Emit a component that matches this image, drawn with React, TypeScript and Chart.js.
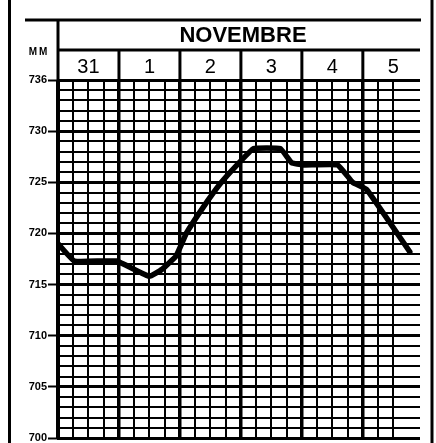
import React, { useEffect, useRef } from "react";
import { Chart, registerables } from "chart.js";

Chart.register(...registerables);

// Hours since 31 Oct 00h
const hours = [0, 6.5, 23, 36, 41, 46.5, 50.5, 57, 64, 70.5, 77, 87.5, 92, 96.5, 110, 116, 121.5, 138.5];
// Barometric pressure (mm)
const pressure = [719.0, 717.3, 717.3, 715.8, 716.5, 717.8, 720.0, 722.5, 724.9, 726.7, 728.3, 728.3, 726.9, 726.7, 726.7, 725.0, 724.3, 718.2];

const monthLabel = "NOVEMBRE";
const dayLabels = ["31", "1", "2", "3", "4", "5"];
const unitLabel = "MM";
const yTickValues = [700, 705, 710, 715, 720, 725, 730, 735];
const yTickLabels = ["700", "705", "710", "715", "720", "725", "730", "736"];

const FONT = "'Liberation Sans', Arial, sans-serif";

const headerPlugin = {
  id: "header",
  afterDraw(chart: any) {
    const ctx = chart.ctx as CanvasRenderingContext2D;
    const xs = chart.scales.x;
    const area = chart.chartArea;
    ctx.save();
    ctx.strokeStyle = "#000";
    ctx.fillStyle = "#000";
    ctx.lineCap = "butt";
    const line = (x1: number, y1: number, x2: number, y2: number, w: number) => {
      ctx.lineWidth = w;
      ctx.beginPath();
      ctx.moveTo(x1, y1);
      ctx.lineTo(x2, y2);
      ctx.stroke();
    };
    // outer frame
    line(9.5, 0, 9.5, 443, 3);
    line(432, 0, 432, 443, 3);
    // header lines
    line(25, 20, 421, 20, 3);
    line(area.left, 20, area.left, area.top, 3);
    line(area.left, 50, area.right, 50, 3);
    for (let i = 1; i < dayLabels.length; i++) {
      const px = xs.getPixelForValue(24 * i);
      line(px, 50, px, area.top, 3);
    }
    // month
    ctx.textAlign = "center";
    ctx.textBaseline = "middle";
    ctx.font = `bold 22px ${FONT}`;
    ctx.fillText(monthLabel, (area.left + area.right) / 2 + 4, 36);
    // days
    ctx.font = `20px ${FONT}`;
    dayLabels.forEach((d, i) => {
      const px = xs.getPixelForValue(24 * i + 12);
      ctx.fillText(d, px, 67);
    });
    // unit
    ctx.font = `bold 10px ${FONT}`;
    (ctx as any).letterSpacing = "2px";
    ctx.fillText(unitLabel, 39, 52);
    ctx.restore();
  },
};

export default function App() {
  const ref = useRef<HTMLCanvasElement>(null);
  useEffect(() => {
    if (!ref.current) return;
    const chart = new Chart(ref.current, {
      type: "line",
      data: {
        datasets: [
          {
            data: hours.map((h, i) => ({ x: h, y: pressure[i] })),
            borderColor: "#000",
            borderWidth: 5.5,
            pointRadius: 0,
            tension: 0.1,
            borderJoinStyle: "round",
            borderCapStyle: "round",
            fill: false,
          },
        ],
      },
      options: {
        responsive: false,
        animation: false,
        events: [],
        layout: { padding: { top: 80, right: 16, bottom: 5, left: 0 } },
        plugins: { legend: { display: false }, tooltip: { enabled: false }, title: { display: false } },
        scales: {
          x: {
            type: "linear",
            min: 0,
            max: 142.5,
            ticks: { display: false, stepSize: 6 },
            grid: {
              drawTicks: false,
              color: (c: any) => (c.tick && Math.abs(c.tick.value % 6) < 1e-6 ? "#000" : "rgba(0,0,0,0)"),
              lineWidth: (c: any) => (c.tick && c.tick.value % 24 === 0 ? 3.5 : 2),
            },
            border: { display: false },
          },
          y: {
            min: 700,
            max: 735,
            afterFit: (s: any) => {
              s.width = 58;
              s.paddingTop = 0;
              s.paddingBottom = 0;
            },
            ticks: {
              stepSize: 1,
              autoSkip: false,
              padding: 1,
              color: "#000",
              font: { family: FONT, size: 11, weight: "bold" },
              callback: (v: any) => {
                const idx = yTickValues.indexOf(Number(v));
                return idx >= 0 ? yTickLabels[idx] : "";
              },
            },
            grid: {
              color: "#000",
              lineWidth: (c: any) => (c.tick && c.tick.value % 5 === 0 ? 3 : 2),
              tickLength: 10,
              tickWidth: 2,
              tickColor: (c: any) => (c.tick && c.tick.value % 5 === 0 ? "#000" : "rgba(0,0,0,0)"),
            },
            border: { display: true, color: "#000", width: 3 },
          },
        },
      } as any,
      plugins: [headerPlugin],
    });
    return () => chart.destroy();
  }, []);
  return (
    <div style={{ position: "fixed", left: 0, top: 0, width: 436, height: 443, background: "#fff" }}>
      <canvas ref={ref} width={436} height={443} style={{ display: "block" }} />
    </div>
  );
}
